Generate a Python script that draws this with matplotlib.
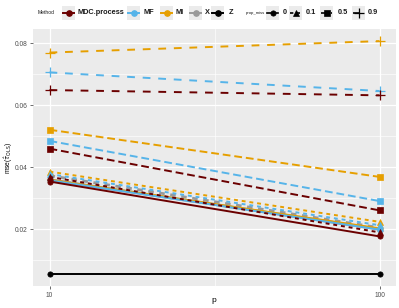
import matplotlib
matplotlib.use("Agg")
import matplotlib.pyplot as plt
from matplotlib.lines import Line2D
from matplotlib.patches import Rectangle
import numpy as np

plt.rcParams['font.family'] = ['Liberation Sans', 'DejaVu Sans']

p_values = [10, 100]
methods = ["MDC.process", "MF", "MI", "X", "Z"]
method_colors = ["#6B0000", "#56B4E9", "#E69F00", "#999999", "#000000"]
prop_levels = ["0", "0.1", "0.5", "0.9"]

# (method, prop_miss) -> mse at p=10, p=100
mse_MDC = {"0": [0.0354, 0.0177], "0.1": [0.0369, 0.0190], "0.5": [0.0460, 0.0261], "0.9": [0.0649, 0.0632]}
mse_MF = {"0": [0.0358, 0.0199], "0.1": [0.0378, 0.0213], "0.5": [0.0485, 0.0291], "0.9": [0.0706, 0.0646]}
mse_MI = {"0": [0.0360, 0.0203], "0.1": [0.0386, 0.0224], "0.5": [0.0521, 0.0369], "0.9": [0.0770, 0.0807]}
mse_X = {"0": [0.0360, 0.0200], "0.1": [0.0373, 0.0205]}
mse_Z = {"0": [0.0055, 0.0055]}
series = {"MDC.process": mse_MDC, "MF": mse_MF, "MI": mse_MI, "X": mse_X, "Z": mse_Z}

y_ticks = [0.02, 0.04, 0.06, 0.08]
x_ticks = [10, 100]

markers = {"0": "o", "0.1": "^", "0.5": "s", "0.9": "+"}
msizes = {"0": 3.8, "0.1": 4.2, "0.5": 3.8, "0.9": 7}
linestyles = {"0": "-", "0.1": (0, (2, 2)), "0.5": (0, (4, 2)), "0.9": (0, (4, 4))}

W, H = 399, 308
fig = plt.figure(figsize=(W / 100, H / 100), dpi=100)
L, R, T, B = 33, 396, 29, 286
ax = fig.add_axes([L / W, 1 - B / H, (R - L) / W, (B - T) / H])
ax.set_facecolor("#EBEBEB")
for s in ax.spines.values():
    s.set_visible(False)

ax.set_ylim(0.0017, 0.0846)
ax.set_xlim(5.5, 104.5)
ax.set_yticks(y_ticks)
ax.set_yticks([0.01, 0.03, 0.05, 0.07], minor=True)
ax.set_xticks(x_ticks)
ax.set_xticks([55], minor=True)
ax.set_xticklabels([str(v) for v in x_ticks])
ax.grid(True, which="major", color="white", lw=0.9)
ax.grid(True, which="minor", color="white", lw=0.45)
ax.set_axisbelow(True)
ax.tick_params(which="both", length=0)
ax.tick_params(which="major", length=2, color="#333333", width=0.5)
ax.tick_params(axis="both", labelsize=4.8, labelcolor="#4D4D4D", pad=2)

order = ["Z", "X", "MI", "MF", "MDC.process"]
for m in order:
    c = method_colors[methods.index(m)]
    for pm, vals in series[m].items():
        lw = 2.0 if (m == "X") else 1.4
        ax.plot(p_values, vals, color=c, lw=lw, linestyle=linestyles[pm],
                marker=markers[pm], markersize=msizes[pm], markeredgewidth=0.9 if pm == "0.9" else 0.5,
                zorder=3)

ax.set_xlabel("p", fontsize=6)
ax.xaxis.set_label_coords((214 - L) / (R - L), -(301 - B) / (B - T))
ax.xaxis.label.set_va("center")
ax.set_ylabel(r"mse($\hat{\tau}_{\mathrm{OLS}}$)", fontsize=4.8)
ax.yaxis.set_label_coords(-(L - 9) / (R - L), 0.5)
ax.yaxis.label.set_va("center")

# legend drawn in figure pixel coordinates
def fx(x):
    return x / W

def fy(y):
    return 1 - y / H

yc = 13
kw, kh = 13, 13
fig.text(fx(38), fy(yc), "Method", fontsize=3.6, va="center", ha="left", color="#1A1A1A")
key_x_m = [62, 127, 160, 189, 211]
lab_x_m = [78, 144, 176, 205, 229]
for m, c, kx, lx in zip(methods, method_colors, key_x_m, lab_x_m):
    fig.patches.append(Rectangle((fx(kx), fy(yc + kh / 2)), kw / W, kh / H, transform=fig.transFigure,
                                 facecolor="#EBEBEB", edgecolor="none"))
    fig.lines.append(Line2D([fx(kx + 1), fx(kx + kw - 1)], [fy(yc), fy(yc)], transform=fig.transFigure,
                            color=c, lw=1.4, marker=None))
    fig.lines.append(Line2D([fx(kx + kw / 2)], [fy(yc)], transform=fig.transFigure,
                            color=c, marker="o", markersize=3.8, lw=0))
    fig.text(fx(lx), fy(yc), m, fontsize=5.3, va="center", ha="left", fontweight="bold", color="#1A1A1A")

fig.text(fx(246), fy(yc), "prop_miss", fontsize=3.1, va="center", ha="left", color="#1A1A1A")
key_x_p = [266, 289, 320, 352]
lab_x_p = [283, 306, 338, 368]
for pm, kx, lx in zip(prop_levels, key_x_p, lab_x_p):
    fig.patches.append(Rectangle((fx(kx), fy(yc + kh / 2)), kw / W, kh / H, transform=fig.transFigure,
                                 facecolor="#EBEBEB", edgecolor="none"))
    fig.lines.append(Line2D([fx(kx + 1), fx(kx + kw - 1)], [fy(yc), fy(yc)], transform=fig.transFigure,
                            color="black", lw=1.2, linestyle=linestyles[pm]))
    fig.lines.append(Line2D([fx(kx + kw / 2)], [fy(yc)], transform=fig.transFigure,
                            color="black", marker=markers[pm], markersize=msizes[pm], lw=0,
                            markeredgewidth=0.9 if pm == "0.9" else 0.5))
    fig.text(fx(lx), fy(yc), pm, fontsize=5.3, va="center", ha="left", fontweight="bold", color="#1A1A1A")

fig.savefig("out.png", dpi=100)
